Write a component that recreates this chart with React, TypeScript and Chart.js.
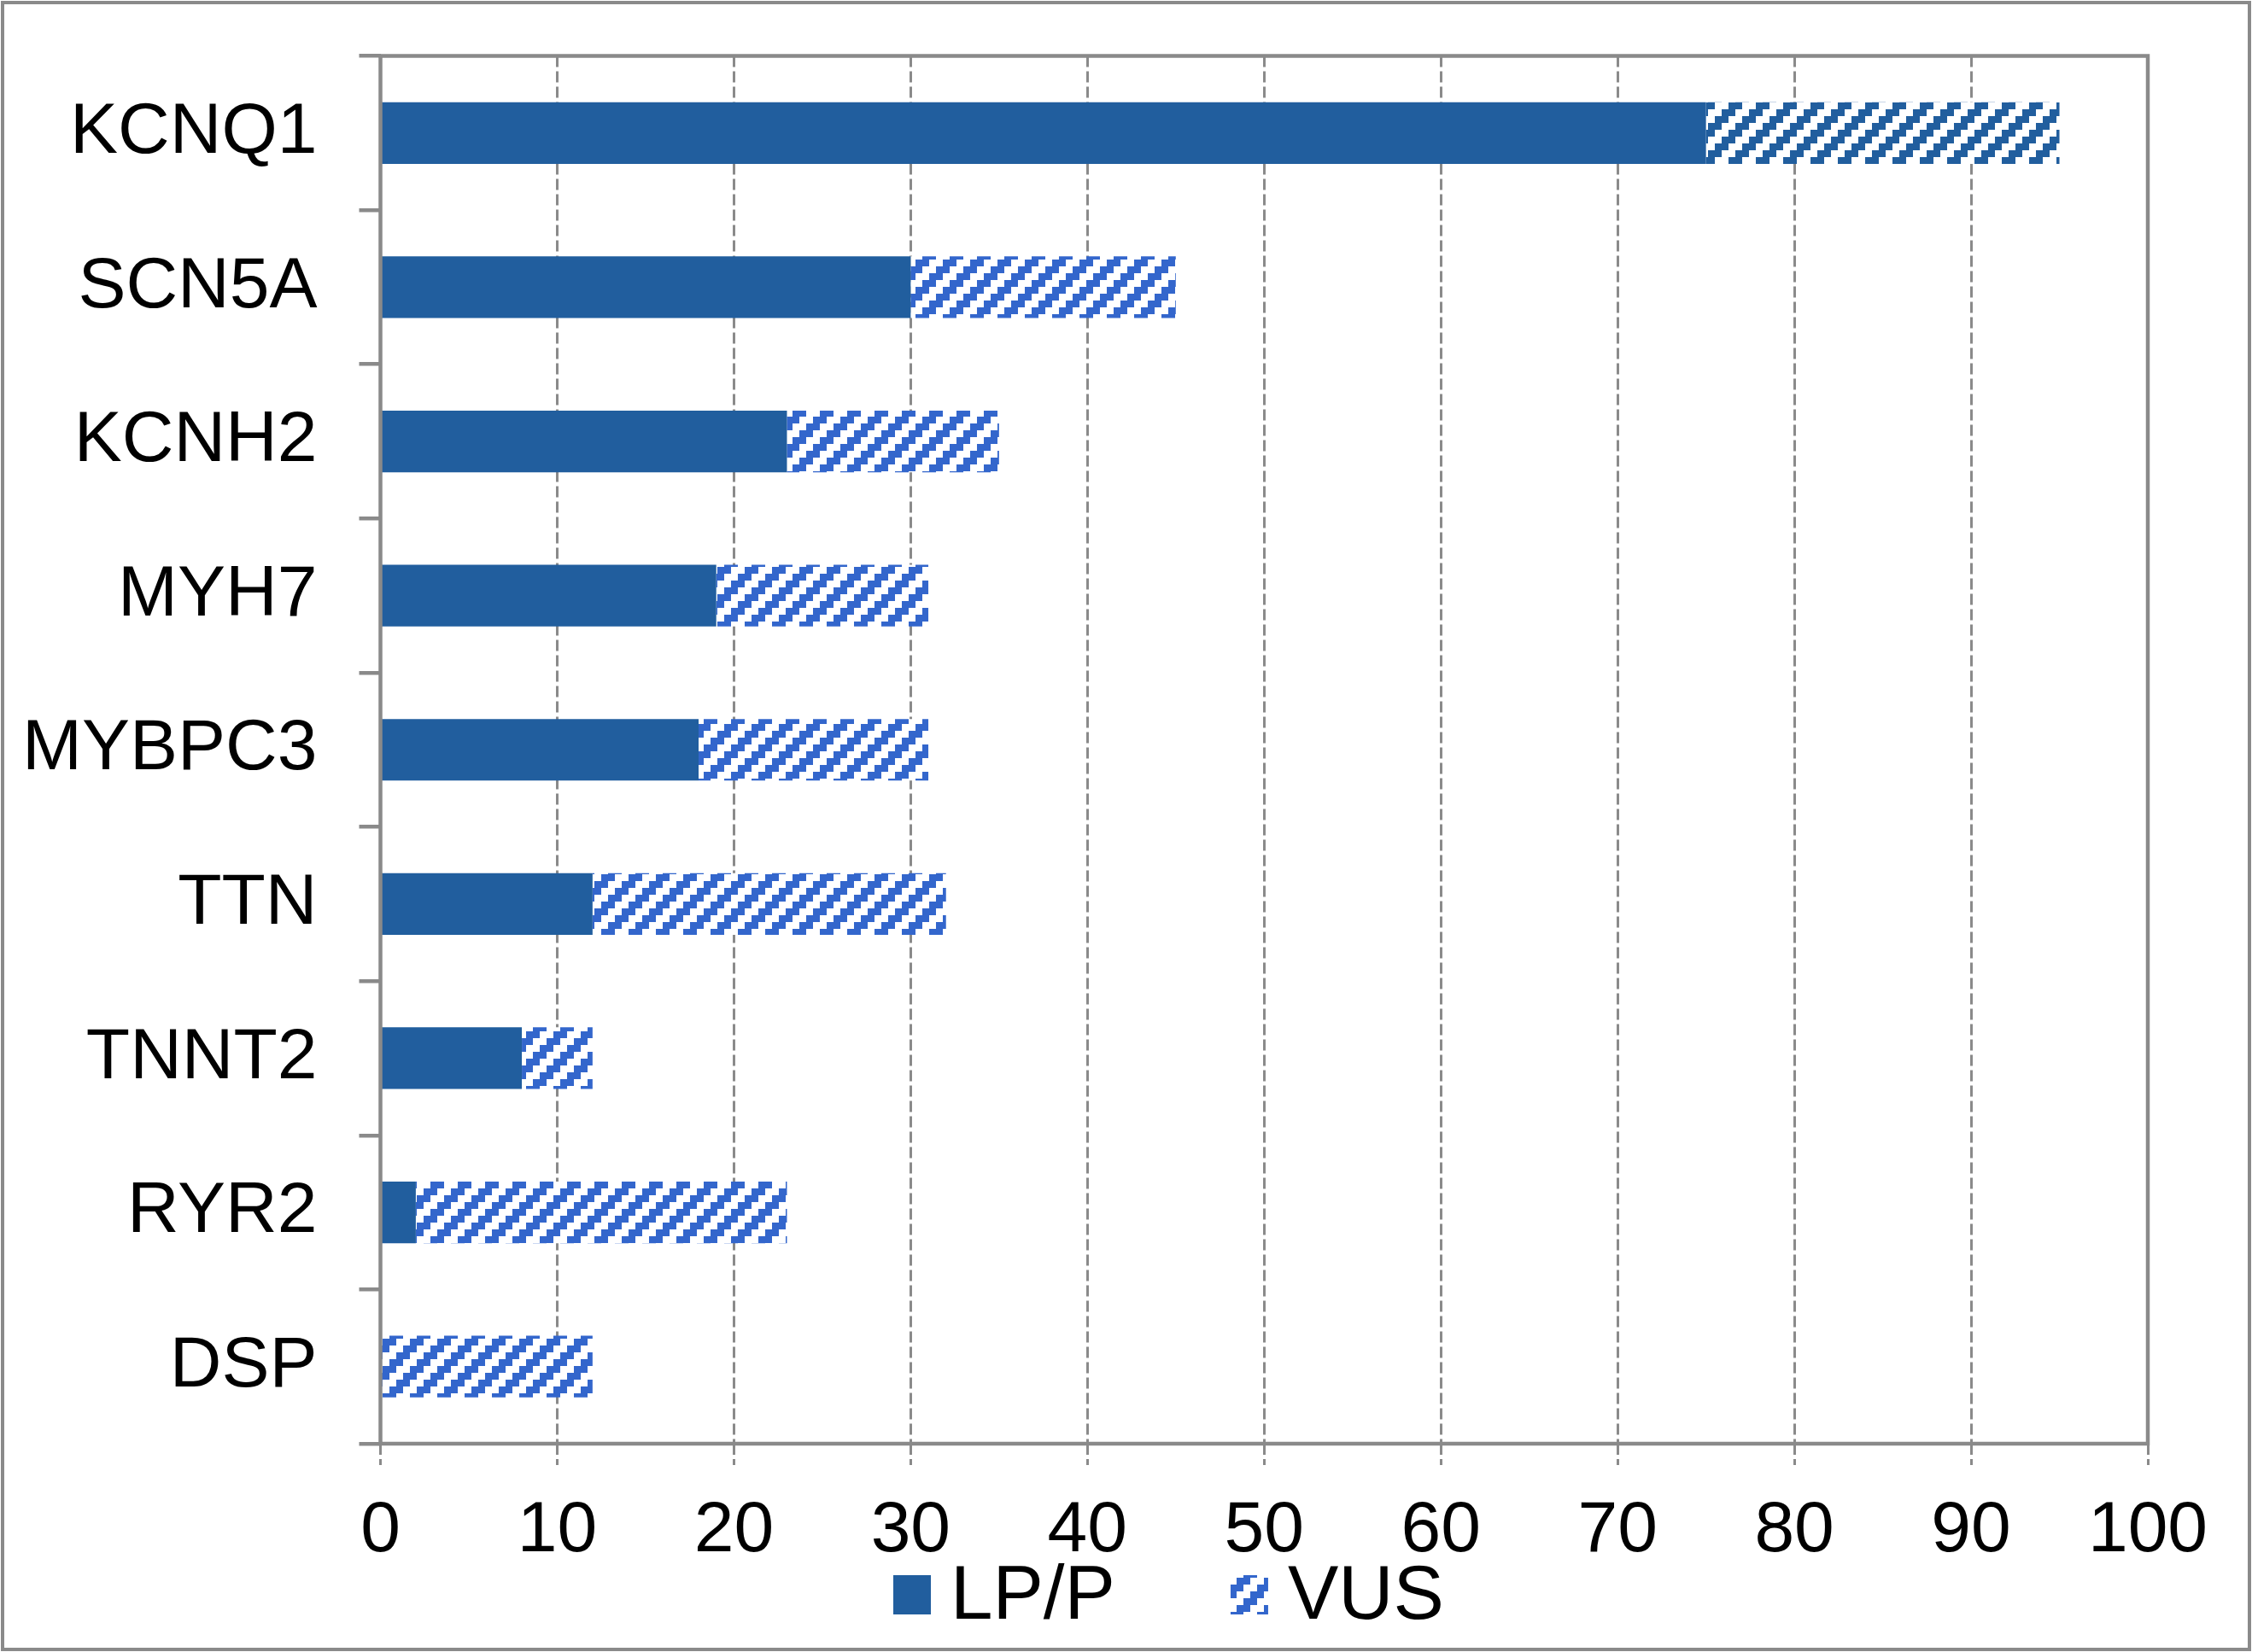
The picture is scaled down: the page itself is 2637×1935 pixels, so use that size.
import React, { useEffect, useRef } from 'react';
import { Chart, registerables } from 'chart.js';

Chart.register(...registerables);

const categories = ['KCNQ1', 'SCN5A', 'KCNH2', 'MYH7', 'MYBPC3', 'TTN', 'TNNT2', 'RYR2', 'DSP'];
const lpP = [75, 30, 23, 19, 18, 12, 8, 2, 0];
const vus = [20, 15, 12, 12, 13, 20, 4, 21, 12];
const seriesLabels = ['LP/P', 'VUS'];
const xMin = 0;
const xMax = 100;
const xStep = 10;

const SOLID = '#215E9E';
const HATCH_LIGHT = '#3366CC';
const HATCH_DARK = '#215E9E';
const GRAY = '#8A8A8A';
const FONT = '"Liberation Sans", Arial, Helvetica, sans-serif';
const W = 2637;
const H = 1935;

function makeHatch(color: string): CanvasPattern | string {
  const c = document.createElement('canvas');
  c.width = 32;
  c.height = 32;
  const g = c.getContext('2d');
  if (!g) return color;
  g.fillStyle = '#ffffff';
  g.fillRect(0, 0, 32, 32);
  g.fillStyle = color;
  for (let r = 0; r < 4; r++) {
    for (let col = 0; col < 4; col++) {
      if ((col + r) % 4 < 2) g.fillRect(col * 8, r * 8, 8, 8);
    }
  }
  return g.createPattern(c, 'repeat') || color;
}

export default function App() {
  const ref = useRef<HTMLCanvasElement | null>(null);

  useEffect(() => {
    document.body.style.margin = '0';
    document.body.style.overflow = 'hidden';
    const canvas = ref.current;
    if (!canvas) return;
    const hatchLight = makeHatch(HATCH_LIGHT);
    const hatchDark = makeHatch(HATCH_DARK);
    const vusColors = categories.map((_, i) => (i === 0 ? hatchDark : hatchLight));

    const framePlugin = {
      id: 'frameAndLegend',
      afterDraw(chart: any) {
        const { ctx, chartArea, width, height } = chart;
        const { left, right, top, bottom } = chartArea;
        ctx.save();
        ctx.setLineDash([]);
        ctx.strokeStyle = GRAY;
        ctx.lineWidth = 4.5;
        ctx.strokeRect(left, top, right - left, bottom - top);
        ctx.lineWidth = 4;
        ctx.strokeRect(3, 3, width - 6, height - 6);

        // legend
        ctx.font = `89px ${FONT}`;
        ctx.textBaseline = 'alphabetic';
        ctx.textAlign = 'left';
        let x = 1046;
        const boxTop = bottom + 154;
        const baseline = bottom + 205;
        const fills = [SOLID, hatchLight];
        seriesLabels.forEach((label, i) => {
          ctx.fillStyle = fills[i];
          ctx.fillRect(x, boxTop, 44, 46);
          ctx.fillStyle = '#000';
          const tx = x + 67;
          ctx.fillText(label, tx, baseline);
          x = tx + ctx.measureText(label).width + 135;
        });
        ctx.restore();
      },
    };

    const chart = new Chart(canvas, {
      type: 'bar',
      data: {
        labels: categories,
        datasets: [
          {
            label: seriesLabels[0],
            data: lpP,
            backgroundColor: SOLID,
            borderWidth: 0,
            barPercentage: 0.4,
            categoryPercentage: 1,
          },
          {
            label: seriesLabels[1],
            data: vus,
            backgroundColor: vusColors as any,
            borderWidth: 0,
            barPercentage: 0.4,
            categoryPercentage: 1,
          },
        ],
      },
      options: {
        indexAxis: 'y',
        responsive: false,
        animation: false,
        layout: { padding: { top: 65.5, right: 122, left: 0, bottom: 0 } },
        plugins: {
          legend: { display: false },
          tooltip: { enabled: false },
          title: { display: false },
        },
        scales: {
          x: {
            stacked: true,
            min: xMin,
            max: xMax,
            ticks: {
              stepSize: xStep,
              color: '#000',
              font: { family: FONT, size: 84 },
              padding: 27,
              maxRotation: 0,
            },
            grid: {
              color: GRAY,
              lineWidth: 3,
              tickLength: 25,
              tickBorderDash: [13, 5],
              drawTicks: true,
            },
            border: { display: false, dash: [13, 5] },
            afterFit: (scale: any) => {
              scale.height = 244;
            },
          },
          y: {
            stacked: true,
            offset: true,
            ticks: {
              color: '#000',
              font: { family: FONT, size: 84 },
              padding: 49,
            },
            grid: {
              offset: true,
              drawOnChartArea: false,
              drawTicks: true,
              tickLength: 25,
              color: GRAY,
              lineWidth: 4.5,
            },
            border: { display: false },
            afterFit: (scale: any) => {
              scale.width = 445.5;
              scale.paddingTop = 0;
              scale.paddingBottom = 0;
            },
          },
        },
      } as any,
      plugins: [framePlugin],
    });

    return () => {
      chart.destroy();
    };
  }, []);

  return (
    <canvas
      ref={ref}
      width={W}
      height={H}
      style={{ display: 'block', width: W + 'px', height: H + 'px', background: '#fff' }}
    />
  );
}
